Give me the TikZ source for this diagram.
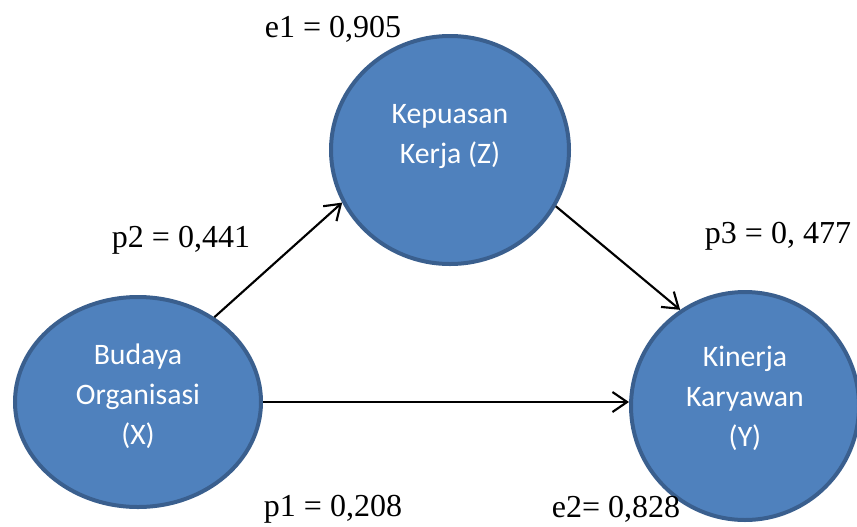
\documentclass[tikz,border=0pt]{standalone}
\usepackage{fontspec}
\setmainfont{Liberation Serif}
\newfontfamily\calibri{Carlito}
\usetikzlibrary{arrows.meta,shapes.geometric}
\definecolor{varfill}{HTML}{4F81BD}
\definecolor{varline}{HTML}{3A5F8E}
\tikzset{
	variabel/.style={ellipse, draw=varline, fill=varfill, line width=3pt, inner sep=0pt},
	varteks/.style={text=white, font=\calibri\fontsize{22.3}{30}\selectfont, align=center},
	koef/.style={anchor=base, font=\fontsize{24}{28}\selectfont},
	panah/.style={line width=1.6pt, -{Straight Barb[length=11pt,width=15pt]}}
}

\begin{document}
\begin{tikzpicture}[x=0.75pt, y=-0.75pt]
		%%%%% START %%%%%
		\useasboundingbox (0, 0) rectangle (857, 526);
		
		\node[variabel, minimum width=184.5pt, minimum height=157.5pt,
			label={[varteks, yshift=4pt]center:{Budaya\\Organisasi\\(X)}}] (X) at (138, 402) {};
		\node[variabel, minimum width=178.5pt, minimum height=171pt,
			label={[varteks, yshift=10pt]center:{Kepuasan\\Kerja (Z)}}] (Z) at (450, 150) {};
		\node[variabel, minimum width=171pt, minimum height=171pt,
			label={[varteks, yshift=6pt]center:{Kinerja\\Karyawan\\(Y)}}] (Y) at (745, 406) {};
		
		\draw[panah] (X.48) -- (Z.206);
		\draw[panah] (X.east) -- (X.east -| Y.west);
		\draw[panah] (Z.332) -- (Y.124);
		
		\node[koef] (e1) at (333, 37) {e1 = 0,905};
		\node[koef] (p2) at (181, 247) {p2 = 0,441};
		\node[koef] (p3) at (778, 243) {p3 = 0, 477};
		\node[koef] (p1) at (333, 516) {p1 = 0,208};
		\node[koef] (e2) at (616, 517) {e2= 0,828};
		
		%%%%% END %%%%%
\end{tikzpicture}
\end{document}
